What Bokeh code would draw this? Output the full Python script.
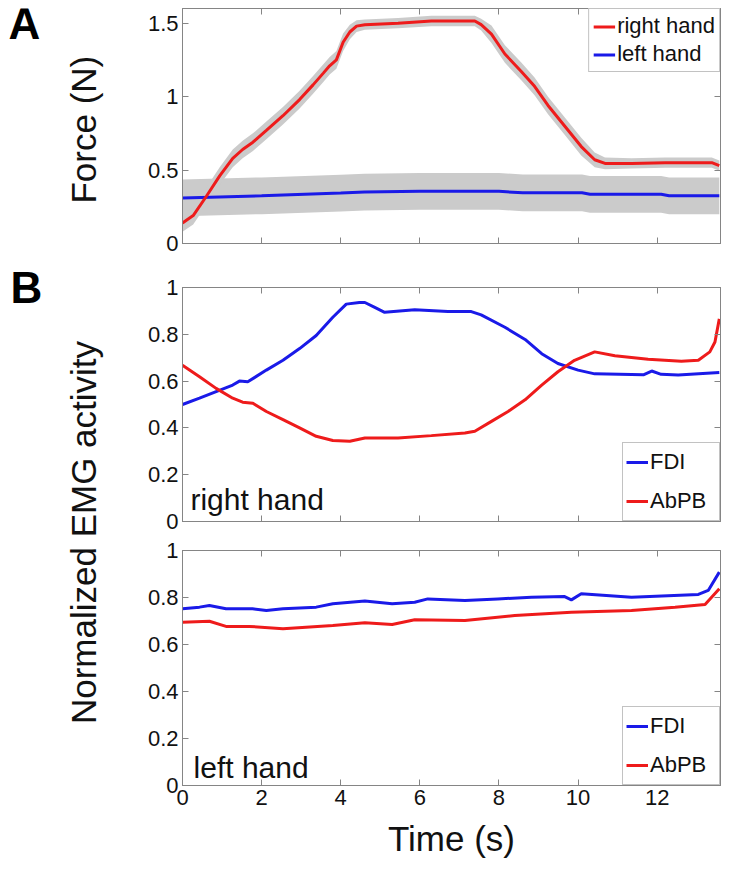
import numpy as np
from bokeh.plotting import figure
from bokeh.models import Range1d, LinearAxis, FixedTicker, Legend, LegendItem, Label
from bokeh.layouts import column, row
from bokeh.embed import file_html
from bokeh.resources import INLINE

# ---------------- data ----------------
# Panel A: force, right hand (mean and spread)
force_right_t = [0, 0.27, 0.6, 0.94, 1.27, 1.52, 1.78, 2.12, 2.54, 2.96, 3.30, 3.56, 3.72, 3.89, 4.06,
                 4.23, 4.40, 4.61, 5.45, 6.29, 7.39, 7.55, 7.81, 8.15, 8.57, 8.90, 9.24, 9.66, 10.08,
                 10.42, 10.68, 11.35, 12.2, 13.38, 13.57]
force_right = [0.14, 0.19, 0.32, 0.46, 0.58, 0.64, 0.69, 0.77, 0.87, 0.98, 1.08, 1.16, 1.21, 1.25, 1.37,
               1.44, 1.48, 1.49, 1.50, 1.515, 1.515, 1.49, 1.425, 1.29, 1.17, 1.07, 0.94, 0.80, 0.66,
               0.57, 0.545, 0.545, 0.55, 0.55, 0.53]
force_right_sd = [0.06, 0.06, 0.06, 0.06, 0.06, 0.06, 0.06, 0.06, 0.06, 0.06, 0.06, 0.06, 0.06, 0.06, 0.06,
                  0.05, 0.04, 0.035, 0.035, 0.035, 0.035, 0.04, 0.06, 0.06, 0.06, 0.06, 0.06, 0.06, 0.06,
                  0.05, 0.04, 0.035, 0.035, 0.035, 0.035]
# Panel A: force, left hand
force_left_t = [0, 2, 4, 4.6, 6, 8, 8.6, 10.1, 10.3, 12.1, 12.3, 13.57]
force_left = [0.31, 0.325, 0.343, 0.35, 0.355, 0.355, 0.345, 0.345, 0.335, 0.335, 0.325, 0.325]
force_left_sd = [0.125, 0.125, 0.125, 0.125, 0.125, 0.125, 0.125, 0.125, 0.125, 0.125, 0.125, 0.125]

# Panel B, right hand EMG
emg_rh_fdi_t = [0, 0.43, 0.85, 1.27, 1.44, 1.65, 2.12, 2.54, 2.96, 3.38, 3.8, 4.14, 4.47, 4.61, 4.86,
                5.11, 5.87, 6.71, 7.3, 7.55, 8.15, 8.66, 9.08, 9.49, 10.0, 10.42, 11.35, 11.65, 11.86,
                12.1, 12.53, 13.57]
emg_rh_fdi = [0.50, 0.527, 0.555, 0.583, 0.60, 0.597, 0.647, 0.689, 0.739, 0.795, 0.873, 0.929, 0.936,
              0.936, 0.915, 0.894, 0.905, 0.897, 0.897, 0.883, 0.83, 0.778, 0.717, 0.675, 0.647, 0.631,
              0.628, 0.627, 0.643, 0.629, 0.626, 0.637]
emg_rh_abpb_t = [0, 0.43, 0.85, 1.27, 1.52, 1.78, 2.12, 2.54, 2.96, 3.38, 3.8, 4.23, 4.61, 5.45, 6.29,
                 7.14, 7.39, 7.81, 8.23, 8.66, 9.08, 9.49, 9.91, 10.42, 10.93, 11.77, 12.61, 13.04, 13.33,
                 13.46, 13.57]
emg_rh_abpb = [0.668, 0.619, 0.569, 0.527, 0.51, 0.505, 0.47, 0.435, 0.40, 0.364, 0.346, 0.343, 0.357,
               0.357, 0.367, 0.378, 0.386, 0.428, 0.47, 0.52, 0.583, 0.64, 0.689, 0.725, 0.708, 0.693,
               0.685, 0.689, 0.725, 0.767, 0.866]

# Panel B, left hand EMG
emg_lh_fdi_t = [0, 0.43, 0.68, 1.1, 1.77, 2.12, 2.54, 3.38, 3.8, 4.61, 5.3, 5.87, 6.2, 7.14, 7.97,
                8.82, 9.66, 9.83, 10.08, 11.35, 13.04, 13.29, 13.57]
emg_lh_fdi = [0.752, 0.759, 0.766, 0.752, 0.752, 0.745, 0.752, 0.759, 0.773, 0.785, 0.773, 0.78, 0.794,
              0.787, 0.794, 0.801, 0.804, 0.79, 0.816, 0.801, 0.813, 0.83, 0.908]
emg_lh_abpb_t = [0, 0.68, 1.1, 1.69, 2.54, 3.8, 4.61, 5.3, 5.87, 7.14, 8.4, 9.83, 11.35, 12.45, 13.21, 13.57]
emg_lh_abpb = [0.695, 0.699, 0.677, 0.677, 0.667, 0.681, 0.693, 0.685, 0.705, 0.702, 0.723, 0.737,
               0.745, 0.759, 0.77, 0.837]

# ticks
x_ticks = [0, 2, 4, 6, 8, 10, 12]
x_tick_labels = ["0", "2", "4", "6", "8", "10", "12"]
force_ticks = [0, 0.5, 1, 1.5]
force_tick_labels = ["0", "0.5", "1", "1.5"]
emg_ticks = [0, 0.2, 0.4, 0.6, 0.8, 1]
emg_tick_labels = ["0", "0.2", "0.4", "0.6", "0.8", "1"]

# ---------------- style ----------------
FONT = "Liberation Sans"
RED = "#ee1b1b"
BLUE = "#1a1ae8"
BAND = "#cbcbcb"
AXC = "#858585"
TXT = "#111111"
X_MAX = 13.6
FRAME_W = 538
LAB_W = 128          # width of the left label column
LEFT = 54            # left border of each panel (tick labels)
TOP_ROW_H = 258      # height of the panel-A row
MID_H = 29 + 234 + 15
BOT_H = 14 + 235 + 80


def style_axis(ax, ticks, labels=None):
    ax.ticker = FixedTicker(ticks=ticks)
    ax.axis_line_color = AXC
    ax.major_tick_line_color = AXC
    ax.major_tick_in = 6
    ax.major_tick_out = 0
    ax.minor_tick_line_color = None
    if labels is None:
        ax.major_label_overrides = {t: "" for t in ticks}
        ax.major_label_text_font_size = "0px"
        ax.major_label_standoff = 0
    else:
        ax.major_label_overrides = dict(zip(ticks, labels))
        ax.major_label_text_font = FONT
        ax.major_label_text_font_size = "22px"
        ax.major_label_text_color = TXT
        ax.major_label_standoff = 4


def panel(y_range, frame_h, top, bottom, y_ticks, y_labels, x_labels):
    p = figure(frame_width=FRAME_W, frame_height=frame_h, x_range=Range1d(0, X_MAX), y_range=y_range,
               min_border_left=LEFT, min_border_right=4, min_border_top=top, min_border_bottom=bottom,
               toolbar_location=None, output_backend="svg", outline_line_color=AXC,
               background_fill_color="white", border_fill_color="white")
    p.xgrid.visible = False
    p.ygrid.visible = False
    bottom_ax = p.below[0]
    style_axis(bottom_ax, x_ticks, x_tick_labels if x_labels else None)
    style_axis(p.left[0], y_ticks, y_labels)
    top_ax = LinearAxis()
    style_axis(top_ax, x_ticks)
    p.add_layout(top_ax, "above")
    right_ax = LinearAxis()
    style_axis(right_ax, y_ticks)
    p.add_layout(right_ax, "right")
    return p, bottom_ax


def add_legend(p, items, location, label_h, spacing, padding, label_w):
    lg = Legend(items=items, location=location, margin=0, padding=padding, spacing=spacing,
                label_height=label_h, glyph_height=label_h, glyph_width=22, label_standoff=2,
                label_width=label_w, label_text_font=FONT, label_text_font_size="22px",
                label_text_color=TXT, border_line_color=AXC, border_line_width=1,
                background_fill_color="white", background_fill_alpha=1.0)
    p.add_layout(lg)


def label_column(height):
    f = figure(width=LAB_W, height=height, x_range=Range1d(0, LAB_W), y_range=Range1d(height, 0),
               min_border=0, toolbar_location=None, output_backend="svg", x_axis_type=None,
               y_axis_type=None, outline_line_color=None, background_fill_color="white",
               border_fill_color="white")
    return f


# ---------------- panel A ----------------
pA, _ = panel(Range1d(0, 1.6), 235, 8, TOP_ROW_H - 243, force_ticks, force_tick_labels, False)
fl = np.array(force_left)
fls = np.array(force_left_sd)
fr = np.array(force_right)
frs = np.array(force_right_sd)
pA.varea(x=force_left_t, y1=fl - fls, y2=fl + fls, fill_color=BAND)
pA.varea(x=force_right_t, y1=fr - frs, y2=fr + frs, fill_color=BAND)
r_left = pA.line(force_left_t, force_left, line_color=BLUE, line_width=3)
r_right = pA.line(force_right_t, force_right, line_color=RED, line_width=3)
add_legend(pA, [LegendItem(label="right hand", renderers=[r_right]),
                LegendItem(label="left hand", renderers=[r_left])],
           "top_right", 25, 2, 4, 20)

pLA = label_column(TOP_ROW_H)
pLA.add_layout(Label(x=8, y=17, text="A", text_font=FONT, text_font_style="bold",
                     text_font_size="44px", text_color="black", text_baseline="alphabetic"))
pLA.add_layout(Label(x=83, y=133, text="Force (N)", angle=90, angle_units="deg",
                     text_align="center", text_baseline="middle", text_font=FONT,
                     text_font_size="35px", text_color=TXT))

# ---------------- panel B, right hand ----------------
pB1, _ = panel(Range1d(0, 1), 234, 29, 15, emg_ticks, emg_tick_labels, False)
b1_fdi = pB1.line(emg_rh_fdi_t, emg_rh_fdi, line_color=BLUE, line_width=3)
b1_abpb = pB1.line(emg_rh_abpb_t, emg_rh_abpb, line_color=RED, line_width=3)
add_legend(pB1, [LegendItem(label="FDI", renderers=[b1_fdi]),
                 LegendItem(label="AbPB", renderers=[b1_abpb])],
           "bottom_right", 32, 7, 3, 66)
pB1.add_layout(Label(x=0.2, y=0.093, text="right hand", text_font=FONT, text_font_size="30px",
                     text_color=TXT, text_baseline="alphabetic"))

# ---------------- panel B, left hand ----------------
pB2, xax = panel(Range1d(0, 1), 235, 14, 80, emg_ticks, emg_tick_labels, True)
xax.axis_label = "Time (s)"
xax.axis_label_text_font = FONT
xax.axis_label_text_font_size = "35px"
xax.axis_label_text_font_style = "normal"
xax.axis_label_text_color = TXT
xax.axis_label_standoff = 11
b2_fdi = pB2.line(emg_lh_fdi_t, emg_lh_fdi, line_color=BLUE, line_width=3)
b2_abpb = pB2.line(emg_lh_abpb_t, emg_lh_abpb, line_color=RED, line_width=3)
add_legend(pB2, [LegendItem(label="FDI", renderers=[b2_fdi]),
                 LegendItem(label="AbPB", renderers=[b2_abpb])],
           "bottom_right", 32, 7, 3, 66)
pB2.add_layout(Label(x=0.28, y=0.077, text="left hand", text_font=FONT, text_font_size="30px",
                     text_color=TXT, text_baseline="alphabetic"))

# ---------------- shared y label column for panel B ----------------
pLB = label_column(MID_H + BOT_H)
pLB.add_layout(Label(x=83, y=532 - TOP_ROW_H, text="Normalized EMG activity", angle=90,
                     angle_units="deg", text_align="center", text_baseline="middle", text_font=FONT,
                     text_font_size="35px", text_color=TXT))
pLB.add_layout(Label(x=10, y=29, text="B", text_font=FONT, text_font_style="bold",
                     text_font_size="44px", text_color="black", text_baseline="alphabetic"))

layout = column(row(pLA, pA), row(pLB, column(pB1, pB2)))

open("out.html", "w").write(file_html(layout, INLINE))
